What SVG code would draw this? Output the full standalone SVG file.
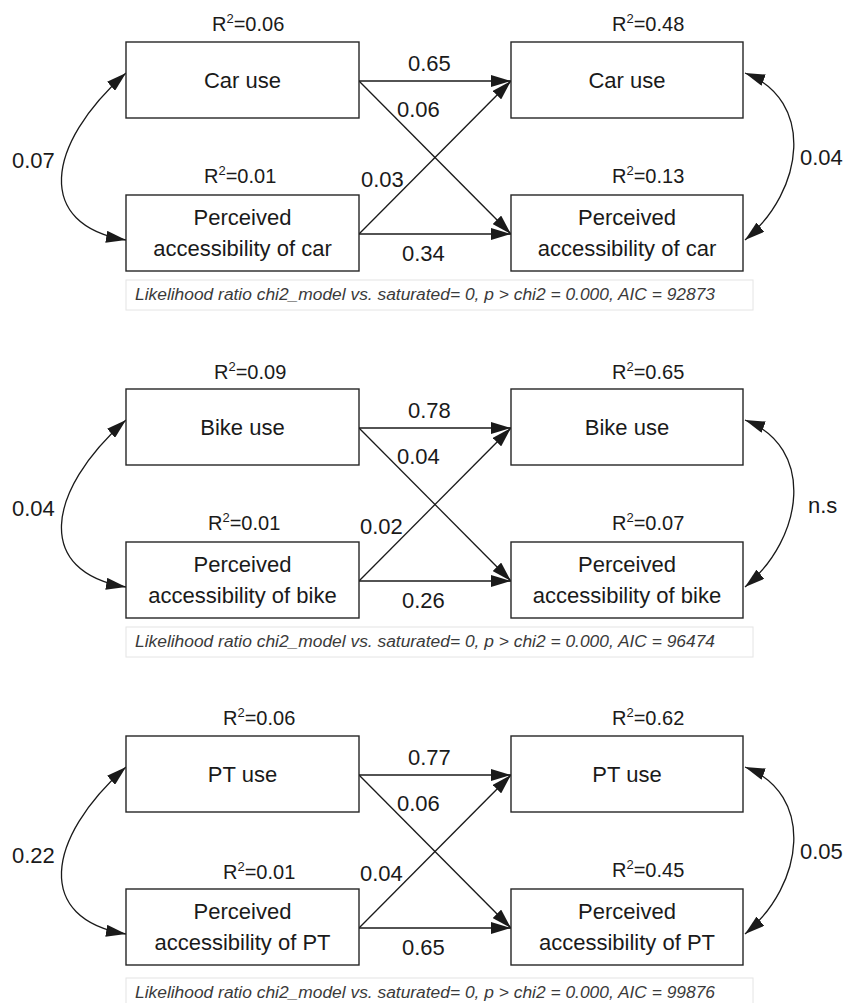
<svg xmlns="http://www.w3.org/2000/svg" width="844" height="1003" viewBox="0 0 844 1003">
<style>
.box{fill:#fff;stroke:#262626;stroke-width:1.4}
.nt{font-family:"Liberation Sans",Arial,sans-serif;font-size:22px;fill:#1a1a1a;text-anchor:middle}
.lb{font-family:"Liberation Sans",Arial,sans-serif;font-size:22px;fill:#1a1a1a}
.r2{font-family:"Liberation Sans",Arial,sans-serif;font-size:20px;fill:#1a1a1a}
.cap{fill:#fff;stroke:#e4e4e4;stroke-width:1}
.ct{font-family:"Liberation Sans",Arial,sans-serif;font-size:16px;font-style:italic;fill:#3a3a3a}
.ln{fill:none;stroke:#1a1a1a;stroke-width:1.3;marker-end:url(#ah)}
.cv{fill:none;stroke:#1a1a1a;stroke-width:1.3;marker-start:url(#ah);marker-end:url(#ah)}
</style>
<defs>
<marker id="ah" markerUnits="userSpaceOnUse" markerWidth="20" markerHeight="12" refX="20" refY="6" orient="auto-start-reverse" viewBox="0 0 20 12">
<path d="M0,0 L20,6 L0,12 z" fill="#1a1a1a"/>
</marker>
</defs>
<rect width="844" height="1003" fill="#fff"/>

<!-- Panel 1: Car -->
<g id="panel-car">
<g id="connectors-car">
<path class="cv" d="M126,73 C45,145 35,225 126,240"/>
<path class="cv" d="M745,73 C815,100 805,190 745,240"/>
<line class="ln" x1="359" y1="81" x2="511" y2="81"/>
<line class="ln" x1="359" y1="81" x2="511" y2="234"/>
<line class="ln" x1="359" y1="234" x2="511" y2="81"/>
<line class="ln" x1="359" y1="234" x2="511" y2="234"/>
<text class="lb" x="408" y="71">0.65</text>
<text class="lb" x="397" y="117">0.06</text>
<text class="lb" x="361" y="187">0.03</text>
<text class="lb" x="402" y="261">0.34</text>
<text class="lb" x="12" y="168">0.07</text>
<text class="lb" x="800" y="165">0.04</text>
</g>
<g id="car-use-t1">
<text class="r2" x="212" y="31">R<tspan font-size="13" dy="-8">2</tspan><tspan dy="8">=0.06</tspan></text>
<rect class="box" x="126" y="42" width="233" height="76"/>
<text class="nt" x="242.5" y="88">Car use</text>
</g>
<g id="car-access-t1">
<text class="r2" x="204" y="183">R<tspan font-size="13" dy="-8">2</tspan><tspan dy="8">=0.01</tspan></text>
<rect class="box" x="126" y="195" width="233" height="76"/>
<text class="nt" x="242.5" y="225">Perceived</text>
<text class="nt" x="242.5" y="256">accessibility of car</text>
</g>
<g id="car-use-t2">
<text class="r2" x="612" y="31">R<tspan font-size="13" dy="-8">2</tspan><tspan dy="8">=0.48</tspan></text>
<rect class="box" x="511" y="42" width="232" height="76"/>
<text class="nt" x="627" y="88">Car use</text>
</g>
<g id="car-access-t2">
<text class="r2" x="612" y="183">R<tspan font-size="13" dy="-8">2</tspan><tspan dy="8">=0.13</tspan></text>
<rect class="box" x="511" y="195" width="232" height="76"/>
<text class="nt" x="627" y="225">Perceived</text>
<text class="nt" x="627" y="256">accessibility of car</text>
</g>
<g id="car-caption">
<rect class="cap" x="126" y="280" width="627" height="30"/>
<text class="ct" x="135" y="300" textLength="580" lengthAdjust="spacingAndGlyphs">Likelihood ratio chi2_model vs. saturated= 0, p &gt; chi2 = 0.000, AIC = 92873</text>
</g>
</g>

<!-- Panel 2: Bike -->
<g id="panel-bike" transform="translate(0,347)">
<g id="connectors-bike">
<path class="cv" d="M126,73 C45,145 35,225 126,240"/>
<path class="cv" d="M745,73 C815,100 805,190 745,240"/>
<line class="ln" x1="359" y1="81" x2="511" y2="81"/>
<line class="ln" x1="359" y1="81" x2="511" y2="234"/>
<line class="ln" x1="359" y1="234" x2="511" y2="81"/>
<line class="ln" x1="359" y1="234" x2="511" y2="234"/>
<text class="lb" x="408" y="71">0.78</text>
<text class="lb" x="397" y="117">0.04</text>
<text class="lb" x="360" y="187">0.02</text>
<text class="lb" x="402" y="261">0.26</text>
<text class="lb" x="12" y="169">0.04</text>
<text class="lb" x="808" y="166">n.s</text>
</g>
<g id="bike-use-t1">
<text class="r2" x="214" y="32">R<tspan font-size="13" dy="-8">2</tspan><tspan dy="8">=0.09</tspan></text>
<rect class="box" x="126" y="42" width="233" height="76"/>
<text class="nt" x="242.5" y="88">Bike use</text>
</g>
<g id="bike-access-t1">
<text class="r2" x="208" y="183">R<tspan font-size="13" dy="-8">2</tspan><tspan dy="8">=0.01</tspan></text>
<rect class="box" x="126" y="195" width="233" height="76"/>
<text class="nt" x="242.5" y="225">Perceived</text>
<text class="nt" x="242.5" y="256">accessibility of bike</text>
</g>
<g id="bike-use-t2">
<text class="r2" x="612" y="32">R<tspan font-size="13" dy="-8">2</tspan><tspan dy="8">=0.65</tspan></text>
<rect class="box" x="511" y="42" width="232" height="76"/>
<text class="nt" x="627" y="88">Bike use</text>
</g>
<g id="bike-access-t2">
<text class="r2" x="612" y="183">R<tspan font-size="13" dy="-8">2</tspan><tspan dy="8">=0.07</tspan></text>
<rect class="box" x="511" y="195" width="232" height="76"/>
<text class="nt" x="627" y="225">Perceived</text>
<text class="nt" x="627" y="256">accessibility of bike</text>
</g>
<g id="bike-caption">
<rect class="cap" x="126" y="280" width="627" height="30"/>
<text class="ct" x="135" y="300" textLength="580" lengthAdjust="spacingAndGlyphs">Likelihood ratio chi2_model vs. saturated= 0, p &gt; chi2 = 0.000, AIC = 96474</text>
</g>
</g>

<!-- Panel 3: PT -->
<g id="panel-pt" transform="translate(0,694)">
<g id="connectors-pt">
<path class="cv" d="M126,73 C45,145 35,225 126,240"/>
<path class="cv" d="M745,73 C815,100 805,190 745,240"/>
<line class="ln" x1="359" y1="81" x2="511" y2="81"/>
<line class="ln" x1="359" y1="81" x2="511" y2="234"/>
<line class="ln" x1="359" y1="234" x2="511" y2="81"/>
<line class="ln" x1="359" y1="234" x2="511" y2="234"/>
<text class="lb" x="408" y="71">0.77</text>
<text class="lb" x="397" y="117">0.06</text>
<text class="lb" x="360" y="187">0.04</text>
<text class="lb" x="402" y="261">0.65</text>
<text class="lb" x="12" y="169">0.22</text>
<text class="lb" x="800" y="165">0.05</text>
</g>
<g id="pt-use-t1">
<text class="r2" x="223" y="31">R<tspan font-size="13" dy="-8">2</tspan><tspan dy="8">=0.06</tspan></text>
<rect class="box" x="126" y="42" width="233" height="76"/>
<text class="nt" x="242.5" y="88">PT use</text>
</g>
<g id="pt-access-t1">
<text class="r2" x="223" y="185">R<tspan font-size="13" dy="-8">2</tspan><tspan dy="8">=0.01</tspan></text>
<rect class="box" x="126" y="195" width="233" height="76"/>
<text class="nt" x="242.5" y="225">Perceived</text>
<text class="nt" x="242.5" y="256">accessibility of PT</text>
</g>
<g id="pt-use-t2">
<text class="r2" x="612" y="31">R<tspan font-size="13" dy="-8">2</tspan><tspan dy="8">=0.62</tspan></text>
<rect class="box" x="511" y="42" width="232" height="76"/>
<text class="nt" x="627" y="88">PT use</text>
</g>
<g id="pt-access-t2">
<text class="r2" x="612" y="183">R<tspan font-size="13" dy="-8">2</tspan><tspan dy="8">=0.45</tspan></text>
<rect class="box" x="511" y="195" width="232" height="76"/>
<text class="nt" x="627" y="225">Perceived</text>
<text class="nt" x="627" y="256">accessibility of PT</text>
</g>
<g id="pt-caption">
<rect class="cap" x="126" y="284" width="627" height="30"/>
<text class="ct" x="135" y="304" textLength="580" lengthAdjust="spacingAndGlyphs">Likelihood ratio chi2_model vs. saturated= 0, p &gt; chi2 = 0.000, AIC = 99876</text>
</g>
</g>
</svg>
